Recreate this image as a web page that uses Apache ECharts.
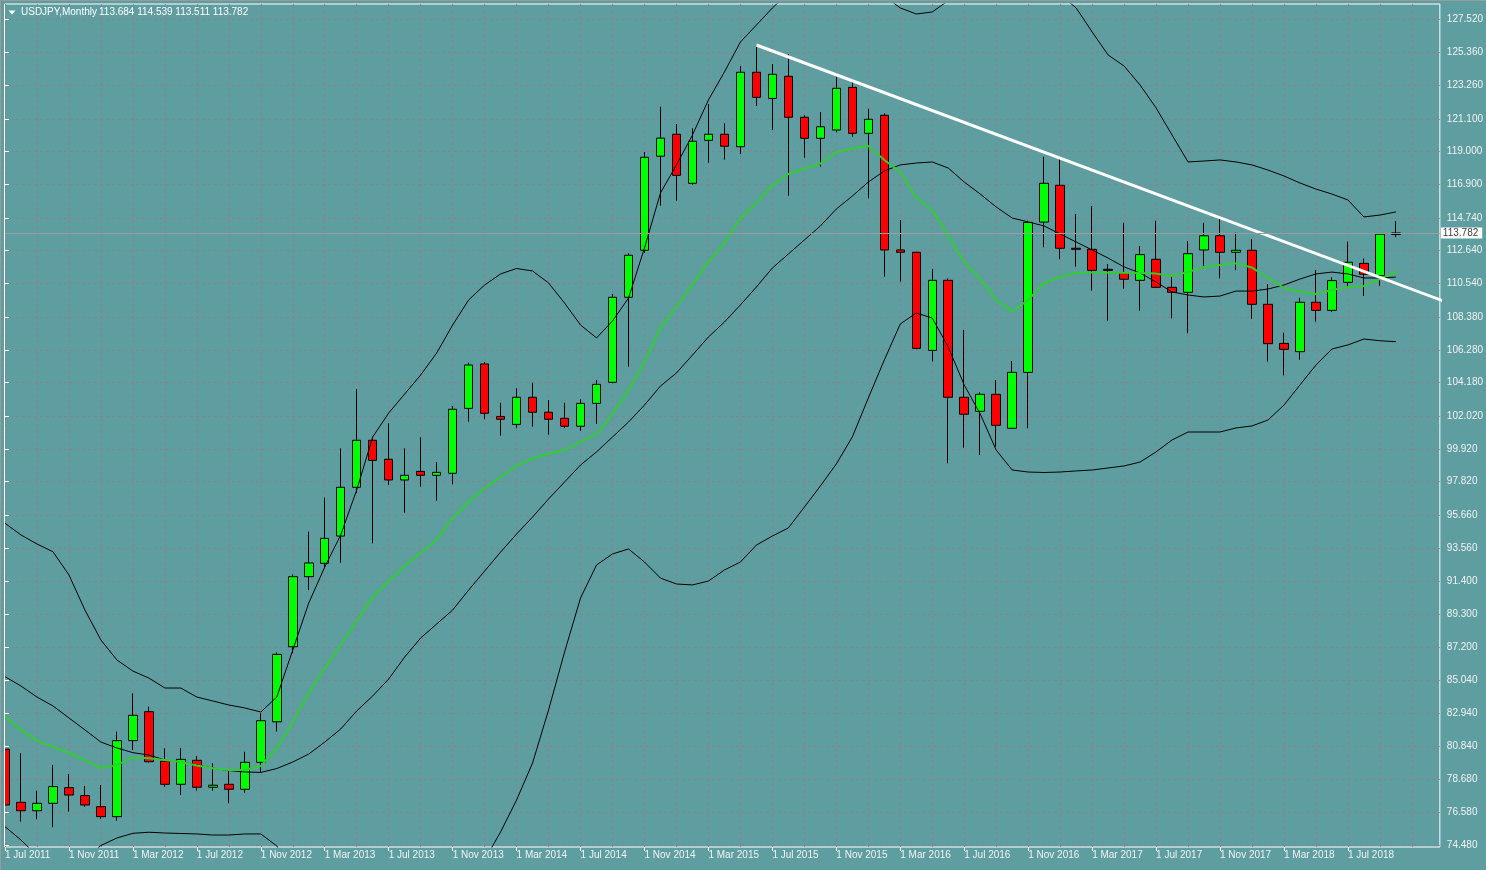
<!DOCTYPE html>
<html><head><meta charset="utf-8">
<script src="https://cdn.jsdelivr.net/npm/echarts@6/dist/echarts.min.js"></script>
<style>html,body{margin:0;padding:0;background:#5F9EA0;overflow:hidden;}#chart{width:1486px;height:870px;}</style>
</head><body><div id="chart"></div>
<script>
// ---- Data (USDJPY monthly, Jul 2011 .. Oct 2018) ----
const symbolTitle = 'USDJPY,Monthly';
const headerValues = '113.684 114.539 113.511 113.782';
const xTickLabels = ['1 Jul 2011','1 Nov 2011','1 Mar 2012','1 Jul 2012','1 Nov 2012','1 Mar 2013','1 Jul 2013','1 Nov 2013','1 Mar 2014','1 Jul 2014','1 Nov 2014','1 Mar 2015','1 Jul 2015','1 Nov 2015','1 Mar 2016','1 Jul 2016','1 Nov 2016','1 Mar 2017','1 Jul 2017','1 Nov 2017','1 Mar 2018','1 Jul 2018'];
const yTickLabels = ['127.520','125.360','123.260','121.100','119.000','116.900','114.740','112.640','110.540','108.380','106.280','104.180','102.020','99.920','97.820','95.660','93.560','91.400','89.300','87.200','85.040','82.940','80.840','78.680','76.580','74.480'];

const opens = [80.63,77.22,76.68,77.16,78.16,77.65,76.94,76.30,81.18,83.04,
 79.87,78.38,79.92,78.19,78.38,78.06,79.79,82.39,87.21,91.71,
 92.57,94.32,97.45,100.47,99.25,97.92,98.47,98.22,98.35,102.52,
 105.37,102.00,101.49,103.23,102.27,101.88,101.37,102.84,104.19,109.65,
 112.67,118.71,120.12,116.97,119.73,120.12,119.32,124.10,122.42,123.84,
 121.21,119.86,120.39,123.13,120.18,121.34,112.69,112.54,106.24,110.74,
 103.23,102.33,103.42,101.24,104.83,114.48,116.84,112.80,112.73,111.45,
 111.23,110.74,112.09,110.29,109.97,112.69,113.60,112.54,112.67,109.20,
 106.69,106.16,109.33,108.81,110.61,111.83,111.04,113.684];
const highs = [81.54,80.37,77.97,79.62,79.04,78.27,78.33,81.76,84.22,83.36,
 80.69,80.70,80.19,79.73,79.30,80.47,82.94,86.85,91.86,94.60,
 96.78,99.95,103.76,100.70,101.56,99.95,100.66,99.07,102.67,105.45,
 105.50,102.88,103.81,104.17,103.05,102.88,103.10,104.34,109.86,112.48,
 118.98,121.89,120.78,120.50,122.06,120.82,124.50,125.85,124.63,125.27,
 121.34,121.55,123.82,123.65,121.76,121.46,114.61,112.58,111.47,110.87,
 107.55,103.55,104.34,105.56,114.57,118.68,118.66,115.00,115.51,111.79,
 114.44,112.94,114.57,111.08,113.26,114.44,114.78,113.80,113.39,110.50,
 107.38,109.62,111.40,110.93,113.22,112.15,113.70,114.539];
const lows = [76.95,75.98,76.13,75.62,76.62,76.94,76.15,76.04,80.58,79.77,
 78.22,77.69,77.97,77.97,77.16,77.84,79.15,81.76,86.79,90.85,
 92.30,92.60,97.07,93.85,97.60,95.82,97.49,96.59,97.64,101.66,
 101.82,100.76,101.24,101.34,100.83,101.24,101.08,101.52,104.13,105.20,
 112.50,115.53,115.85,116.88,118.29,118.49,118.85,121.93,120.39,116.17,
 118.61,118.04,120.24,119.96,116.01,110.97,110.65,106.31,105.52,98.99,
 99.99,99.52,100.06,101.21,101.24,112.86,112.09,111.62,110.07,108.15,
 110.20,108.79,110.33,108.30,107.34,111.62,110.87,111.40,108.27,105.52,
 104.63,105.64,108.08,108.72,110.27,109.73,110.38,113.511];
const closes = [77.05,76.68,77.16,78.23,77.69,77.05,76.30,81.18,82.81,79.83,
 78.38,79.98,78.19,78.32,78.06,79.79,82.46,86.72,91.71,92.59,
 94.17,97.45,100.47,99.18,97.92,98.22,98.22,98.41,102.46,105.30,
 102.20,101.82,103.23,102.27,101.82,101.37,102.84,104.06,109.65,112.35,
 118.64,119.87,117.48,119.67,120.12,119.35,124.10,122.49,123.97,121.21,
 119.86,120.60,123.07,120.18,121.08,112.69,112.54,106.37,110.74,103.23,
 102.14,103.42,101.43,104.83,114.46,116.97,112.80,112.73,111.38,111.38,
 110.81,112.39,110.29,109.97,112.45,113.60,112.54,112.67,109.20,106.67,
 106.31,109.33,108.81,110.72,111.90,111.13,113.70,113.782];

const bandUpper = [95.14,94.39,93.81,93.31,91.82,89.57,87.64,86.36,85.65,85.20,
 84.56,84.56,83.98,83.73,83.47,83.28,83.02,83.98,87.00,90.02,
 92.33,94.39,97.28,100.68,102.22,103.44,104.66,106.07,107.87,109.48,
 110.44,111.15,111.50,111.34,110.57,109.28,107.87,107.04,108.13,109.60,
 112.82,116.35,118.15,120.07,122.32,124.12,126.04,127.13,128.23,129.2,
 129.9,130.3,130.6,130.5,130.0,129.0,128.23,127.84,127.97,128.7,
 129.3,129.6,129.8,129.9,129.9,129.6,129.1,128.23,126.69,125.21,
 124.50,123.28,121.81,120.07,118.34,118.40,118.47,118.34,118.15,117.82,
 117.44,116.99,116.60,116.28,115.90,114.81,114.93,115.13];
const bandMiddle = [85.29,84.69,83.98,83.41,82.64,81.87,81.09,80.71,80.41,80.26,
 79.94,79.81,79.62,79.42,79.26,79.17,79.14,79.39,79.81,80.32,
 81.09,81.93,83.09,84.05,85.14,86.55,87.77,88.67,89.57,90.85,
 92.07,93.29,94.45,95.54,96.70,97.79,98.88,99.72,100.68,101.64,
 102.73,103.95,104.79,105.94,107.10,108.06,109.16,110.31,111.53,112.43,
 113.33,114.23,115.32,116.15,117.05,117.76,118.15,118.27,118.34,117.95,
 117.05,116.28,115.45,114.74,114.49,114.23,113.71,113.20,112.69,112.17,
 111.60,111.21,110.63,109.99,109.80,109.67,109.73,110.05,110.05,110.18,
 110.44,110.82,111.15,111.27,111.15,110.89,110.89,110.95];
const bandLower = [75.66,74.80,73.80,73.30,73.10,73.60,74.45,74.93,75.23,75.30,
 75.25,75.22,75.19,75.12,75.12,75.19,75.19,74.42,72.8,70.0,
 68.0,66.0,64.0,63.0,63.0,64.0,65.5,67.0,68.5,71.0,
 73.52,75.32,77.37,79.75,83.15,86.87,90.34,92.46,93.17,93.49,
 92.65,91.62,91.24,91.18,91.43,92.14,92.65,93.74,94.32,94.84,
 96.18,97.53,98.95,100.68,103.18,105.62,107.94,108.64,108.32,106.46,
 104.02,102.16,99.84,98.56,98.43,98.40,98.43,98.50,98.56,98.69,
 98.82,99.07,99.72,100.49,101.00,101.00,101.00,101.26,101.39,101.77,
 102.73,104.02,105.30,106.33,106.59,106.97,106.86,106.80];
const maGreen = [82.72,81.87,81.18,80.79,80.39,79.94,79.42,79.62,80.11,80.05,
 79.94,79.81,79.59,79.41,79.30,79.30,79.55,80.71,82.38,84.24,
 85.85,87.32,88.86,90.41,91.43,92.40,93.23,94.07,95.48,96.51,
 97.40,98.11,98.82,99.33,99.59,99.84,100.36,100.87,102.16,103.63,
 105.50,107.68,109.03,110.50,111.92,113.14,114.74,115.71,116.86,117.57,
 117.92,118.24,118.98,119.20,119.37,118.47,117.70,116.03,115.26,113.59,
 111.92,110.82,109.48,108.73,109.48,110.57,110.95,111.21,111.25,111.23,
 111.23,111.21,111.17,111.02,111.27,111.60,111.72,111.83,111.56,110.89,
 110.25,110.00,109.86,110.12,110.31,110.38,110.82,111.29];
const trendIdx = [47, 90];
const trendPrice = [125.85, 109.40];

// ---- Build chart ----
const FONT = 'Liberation Sans';
const TXT = '#f2f2f2';
const BG = '#5F9EA0';
const n = closes.length;
const idx = closes.map((_, i) => i);
const candleData = idx.map(i => [i, opens[i], closes[i], lows[i], highs[i]]);
const lineData = arr => arr.map((v, i) => [i, v]);
const yTicks = yTickLabels.map(Number);
const gridTicks = idx.concat([n]).filter(i => i % 2 === 0);
const labelTicks = xTickLabels.map((_, k) => k * 4);
const lastClose = closes[n - 1];

const X_MIN = -0.0625, X_MAX = 89.75, Y_MIN = 74.352, Y_MAX = 128.483;

const chart = echarts.init(document.getElementById('chart'), null, {renderer: 'canvas'});
chart.setOption({
  animation: false,
  backgroundColor: BG,
  grid: {left: 4, top: 4, right: 45, bottom: 23, show: true, borderColor: '#ffffff', borderWidth: 1, backgroundColor: 'transparent'},
  graphic: [
    // mask left of the plot border (the first candle is cut there) and window edge
    {type: 'rect', z: 100, shape: {x: 0, y: 0, width: 4.5, height: 870}, style: {fill: BG}},
    {type: 'line', z: 101, shape: {x1: 4.5, y1: 4, x2: 4.5, y2: 847}, style: {stroke: '#ffffff', lineWidth: 1}},
    {type: 'line', z: 101, shape: {x1: 0.5, y1: 0, x2: 0.5, y2: 870}, style: {stroke: '#9a9a9a', lineWidth: 1}},
    {type: 'line', z: 101, shape: {x1: 0, y1: 0.5, x2: 1486, y2: 0.5}, style: {stroke: '#9a9a9a', lineWidth: 1}},
    {type: 'polygon', z: 101, shape: {points: [[8.5, 10.5], [15.5, 10.5], [12, 14.5]]}, style: {fill: '#ffffff'}},
    {type: 'text', z: 101, left: 21, top: 7, style: {text: symbolTitle, fill: '#ffffff', font: '10px ' + FONT}},
    {type: 'text', z: 101, left: 99, top: 7, style: {text: headerValues, fill: '#ffffff', font: '10px ' + FONT}}
  ],
  xAxis: [
    {type: 'value', min: X_MIN, max: X_MAX, position: 'bottom',
     axisLine: {show: false}, axisLabel: {show: false},
     axisTick: {show: false, customValues: gridTicks},
     splitLine: {show: true, lineStyle: {color: '#85858f', type: [3, 3], width: 1}}},
    {type: 'value', min: X_MIN, max: X_MAX, position: 'bottom',
     axisLine: {show: false}, splitLine: {show: false},
     axisTick: {show: true, customValues: labelTicks, length: 4, lineStyle: {color: '#ffffff'}},
     axisLabel: {show: true, customValues: labelTicks, align: 'left', margin: 3, color: TXT, fontFamily: FONT, fontSize: 10,
       formatter: v => xTickLabels[Math.round(v / 4)] || ''}}
  ],
  yAxis: {type: 'value', position: 'right', min: Y_MIN, max: Y_MAX, scale: true,
    axisLine: {show: false},
    axisTick: {show: true, customValues: yTicks, length: 4, lineStyle: {color: '#ffffff'}},
    axisLabel: {show: true, customValues: yTicks, margin: 7, color: TXT, fontFamily: FONT, fontSize: 10,
      formatter: v => v.toFixed(3)},
    splitLine: {show: true, lineStyle: {color: '#85858f', type: [3, 3], width: 1}}},
  series: [
    {name: 'BB upper', type: 'line', data: lineData(bandUpper), showSymbol: false, symbol: 'none', clip: true,
     lineStyle: {color: '#000000', width: 1}},
    {name: 'BB middle', type: 'line', data: lineData(bandMiddle), showSymbol: false, symbol: 'none', clip: true,
     lineStyle: {color: '#000000', width: 1}},
    {name: 'BB lower', type: 'line', data: lineData(bandLower), showSymbol: false, symbol: 'none', clip: true,
     lineStyle: {color: '#000000', width: 1}},
    {name: 'MA', type: 'line', data: lineData(maGreen), showSymbol: false, symbol: 'none', clip: true,
     lineStyle: {color: '#32CD32', width: 2}},
    {name: 'Trend', type: 'line', data: trendIdx.map((v, k) => [v, trendPrice[k]]), showSymbol: false, symbol: 'none', clip: true,
     lineStyle: {color: '#ffffff', width: 3}},
    {name: symbolTitle, type: 'candlestick', data: candleData, clip: true, barWidth: 9,
     dimensions: ['idx', 'open', 'close', 'lowest', 'highest'],
     encode: {x: 'idx', y: ['open', 'close', 'lowest', 'highest']},
     itemStyle: {color: '#00FF00', color0: '#FF0000', borderColor: '#000000', borderColor0: '#000000', borderColorDoji: '#000000', borderWidth: 1},
     markLine: {silent: true, symbol: ['none', 'none'], animation: false,
       lineStyle: {color: '#9c9c9c', width: 1, type: 'solid'},
       label: {show: true, position: 'end', distance: 1, formatter: lastClose.toFixed(3), color: '#404040', backgroundColor: '#ffffff',
         padding: [1, 4, 0, 2], fontFamily: FONT, fontSize: 10},
       data: [{yAxis: lastClose}]}}
  ]
});
</script></body></html>
